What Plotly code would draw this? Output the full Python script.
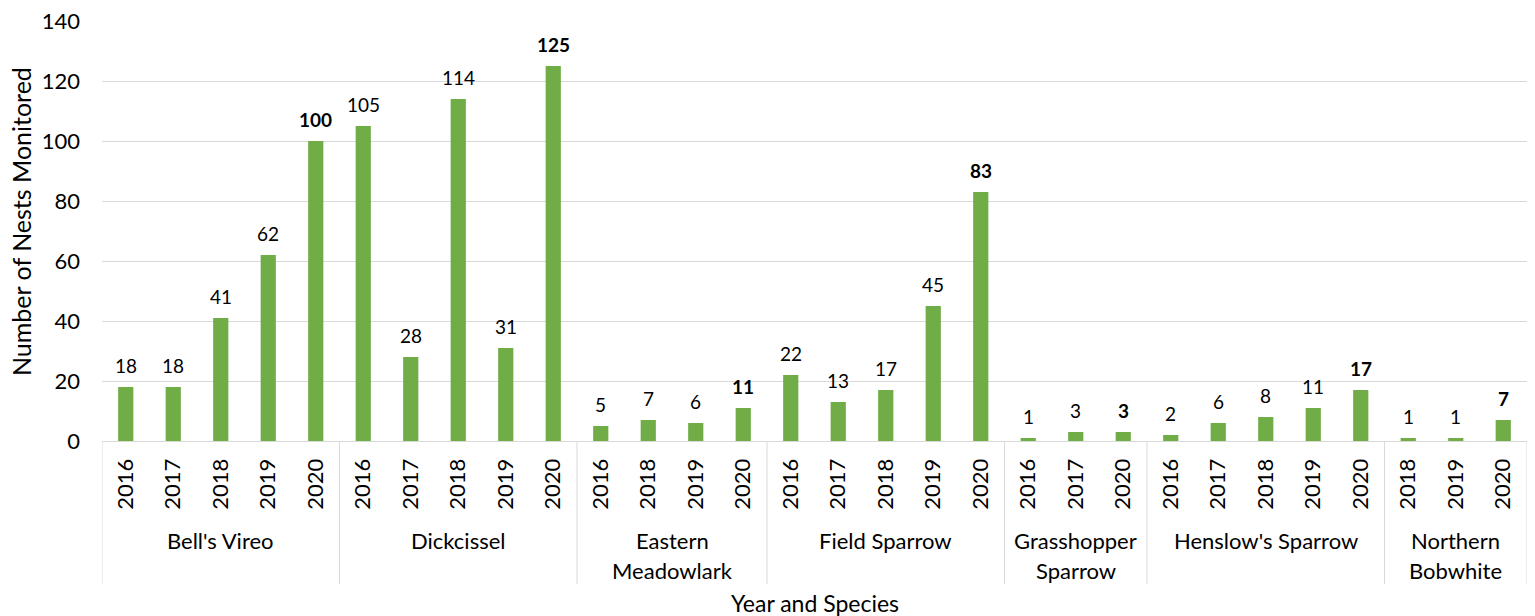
import plotly.graph_objects as go

# Nest monitoring counts by species and year
species = ["Bell's Vireo", "Dickcissel", "Eastern\nMeadowlark", "Field Sparrow",
           "Grasshopper\nSparrow", "Henslow's Sparrow", "Northern\nBobwhite"]
years = [
    ["2016", "2017", "2018", "2019", "2020"],
    ["2016", "2017", "2018", "2019", "2020"],
    ["2016", "2018", "2019", "2020"],
    ["2016", "2017", "2018", "2019", "2020"],
    ["2016", "2017", "2020"],
    ["2016", "2017", "2018", "2019", "2020"],
    ["2018", "2019", "2020"],
]
nests = [
    [18, 18, 41, 62, 100],
    [105, 28, 114, 31, 125],
    [5, 7, 6, 11],
    [22, 13, 17, 45, 83],
    [1, 3, 3],
    [2, 6, 8, 11, 17],
    [1, 1, 7],
]

FONT = "Lato"
BAR = "#70ad47"
GRID = "#d9d9d9"
TEXT = "#000000"

# flatten the two-level category axis into consecutive positions
xs, ticks, vals, bold = [], [], [], []
group_bounds = [-0.5]
i = 0
for g, (ys, vs) in enumerate(zip(years, nests)):
    for k, (yr, v) in enumerate(zip(ys, vs)):
        xs.append(i)
        ticks.append(yr)
        vals.append(v)
        bold.append(k == len(ys) - 1)
        i += 1
    group_bounds.append(i - 0.5)

fig = go.Figure()
fig.add_trace(go.Bar(
    x=xs, y=vals, width=0.32,
    marker=dict(color=BAR, line=dict(width=0)),
    hoverinfo="x+y",
))

annotations = []
# value labels above each bar (last year of each species in bold)
for x, v, b in zip(xs, vals, bold):
    annotations.append(dict(
        x=x, y=v, xref="x", yref="y",
        text=f"<b>{v}</b>" if b else str(v),
        showarrow=False, yanchor="middle", yshift=22,
        font=dict(family=FONT, size=19, color=TEXT),
    ))

# species labels beneath the year ticks
for g, name in enumerate(species):
    cx = (group_bounds[g] + group_bounds[g + 1]) / 2
    for li, line in enumerate(name.split("\n")):
        annotations.append(dict(
            x=cx, y=0, xref="x", yref="paper",
            text=line, showarrow=False, yanchor="middle",
            yshift=-(99 + 30 * li),
            font=dict(family=FONT, size=22, color=TEXT),
        ))

annotations.append(dict(
    x=0.5, y=0, xref="paper", yref="paper", text="Year and Species",
    showarrow=False, yanchor="middle", yshift=-162,
    font=dict(family=FONT, size=23, color=TEXT),
))
annotations.append(dict(
    x=0, y=0.5, xref="paper", yref="paper", text="Number of Nests Monitored",
    showarrow=False, xanchor="center", xshift=-81, yshift=9, textangle=-90,
    font=dict(family=FONT, size=25, color=TEXT),
))

# group divider lines under the axis
shapes = []
for b in group_bounds:
    shapes.append(dict(
        type="line", xref="x", yref="paper", x0=b, x1=b, y0=0, y1=-0.3405,
        line=dict(color=GRID, width=1),
    ))

fig.update_layout(
    width=1535, height=616,
    margin=dict(l=102, r=8, t=21, b=175),
    paper_bgcolor="white", plot_bgcolor="white",
    showlegend=False,
    annotations=annotations,
    shapes=shapes,
    font=dict(family=FONT, color=TEXT),
)
fig.update_xaxes(
    range=[-0.5, len(xs) - 0.5],
    tickmode="array", tickvals=xs, ticktext=ticks,
    tickangle=-90, ticks="", showgrid=False,
    showline=True, linecolor=GRID, linewidth=1,
    tickfont=dict(family=FONT, size=22, color=TEXT),
    ticklabelstandoff=8,
    fixedrange=True,
)
fig.update_yaxes(
    range=[0, 140], dtick=20,
    showgrid=True, gridcolor=GRID, gridwidth=1,
    zeroline=False, showline=False, ticks="",
    tickfont=dict(family=FONT, size=22, color=TEXT),
    ticklabelstandoff=21,
    fixedrange=True,
)

fig.write_html("out.html")
